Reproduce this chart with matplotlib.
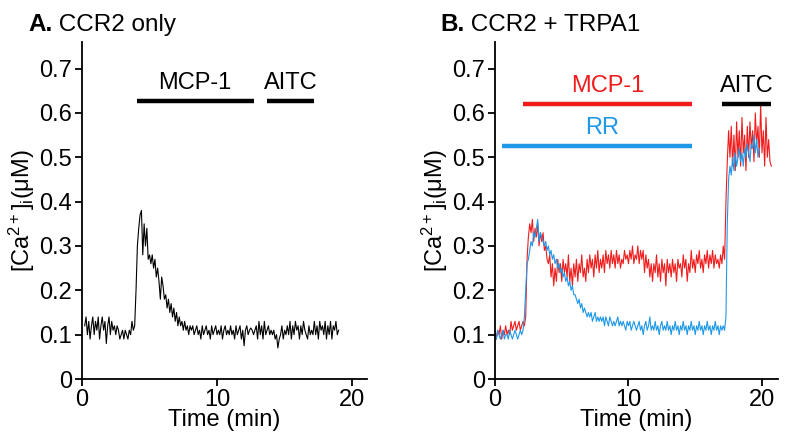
import numpy as np
import matplotlib
matplotlib.use("Agg")
import matplotlib.pyplot as plt

plt.rcParams['font.family'] = ['Liberation Sans', 'DejaVu Sans']
plt.rcParams['mathtext.fontset'] = 'custom'
plt.rcParams['mathtext.rm'] = 'Liberation Sans'
plt.rcParams['mathtext.it'] = 'Liberation Sans:italic'

RED = '#f01c1c'
BLUE = '#1f98e8'

# ---- panel A: CCR2 only, trace sampled every 0.1 min from 0.2 min ----
a_t0 = 0.2
a_ca = [
    0.12, 0.14, 0.10, 0.13, 0.09, 0.12, 0.14, 0.10, 0.13, 0.11,
    0.14, 0.09, 0.12, 0.14, 0.11, 0.13, 0.08, 0.12, 0.14, 0.10,
    0.13, 0.11, 0.12, 0.10, 0.12, 0.11, 0.09, 0.10, 0.11, 0.09,
    0.11, 0.10, 0.09, 0.11, 0.10, 0.13, 0.11, 0.12, 0.20, 0.30,
    0.34, 0.37, 0.38, 0.28, 0.35, 0.30, 0.34, 0.27, 0.28, 0.26,
    0.28, 0.25, 0.27, 0.23, 0.25, 0.22, 0.18, 0.23, 0.21, 0.18,
    0.19, 0.16, 0.18, 0.15, 0.17, 0.14, 0.16, 0.13, 0.15, 0.12,
    0.14, 0.12, 0.13, 0.11, 0.13, 0.11, 0.12, 0.10, 0.12, 0.11,
    0.12, 0.10, 0.11, 0.12, 0.10, 0.11, 0.09, 0.12, 0.10, 0.11,
    0.12, 0.10, 0.11, 0.09, 0.12, 0.10, 0.11, 0.12, 0.10, 0.11,
    0.10, 0.12, 0.09, 0.11, 0.12, 0.10, 0.11, 0.10, 0.12, 0.10,
    0.11, 0.09, 0.12, 0.10, 0.11, 0.12, 0.09, 0.11, 0.075, 0.11,
    0.12, 0.10, 0.11, 0.115, 0.11, 0.10, 0.11, 0.12, 0.09, 0.13,
    0.10, 0.12, 0.09, 0.13, 0.10, 0.11, 0.12, 0.10, 0.11, 0.10,
    0.11, 0.09, 0.10, 0.07, 0.09, 0.10, 0.12, 0.09, 0.11, 0.10,
    0.12, 0.10, 0.13, 0.09, 0.12, 0.10, 0.13, 0.11, 0.12, 0.09,
    0.12, 0.10, 0.13, 0.11, 0.10, 0.09, 0.12, 0.10, 0.11, 0.10,
    0.13, 0.10, 0.12, 0.09, 0.13, 0.11, 0.12, 0.10, 0.13, 0.09,
    0.12, 0.10, 0.13, 0.09, 0.12, 0.11, 0.13, 0.10, 0.11,
]

# ---- panel B: CCR2 + TRPA1, both traces sampled every 0.1 min from 0 ----
b_blue = [
    0.10, 0.09, 0.11, 0.10, 0.09, 0.10, 0.11, 0.09, 0.10, 0.10,
    0.09, 0.11, 0.10, 0.09, 0.10, 0.11, 0.10, 0.09, 0.10, 0.11,
    0.10, 0.11, 0.14, 0.20, 0.26, 0.27, 0.29, 0.31, 0.30, 0.33,
    0.32, 0.34, 0.36, 0.31, 0.33, 0.32, 0.31, 0.30, 0.31, 0.29,
    0.30, 0.28, 0.29, 0.27, 0.28, 0.26, 0.27, 0.25, 0.26, 0.24,
    0.25, 0.23, 0.24, 0.22, 0.23, 0.21, 0.22, 0.20, 0.21, 0.19,
    0.19, 0.18, 0.17, 0.18, 0.16, 0.17, 0.15, 0.16, 0.15, 0.14,
    0.15, 0.14, 0.15, 0.13, 0.14, 0.15, 0.13, 0.14, 0.13, 0.14,
    0.13, 0.14, 0.12, 0.14, 0.13, 0.12, 0.14, 0.13, 0.12, 0.13,
    0.12, 0.13, 0.14, 0.12, 0.13, 0.12, 0.13, 0.12, 0.11, 0.13,
    0.12, 0.13, 0.11, 0.12, 0.13, 0.12, 0.11, 0.12, 0.13, 0.11,
    0.12, 0.10, 0.12, 0.13, 0.11, 0.12, 0.14, 0.11, 0.12, 0.11,
    0.13, 0.11, 0.12, 0.10, 0.12, 0.13, 0.11, 0.12, 0.11, 0.13,
    0.11, 0.12, 0.10, 0.12, 0.11, 0.13, 0.11, 0.12, 0.10, 0.12,
    0.11, 0.13, 0.11, 0.12, 0.10, 0.12, 0.11, 0.13, 0.11, 0.12,
    0.10, 0.12, 0.11, 0.13, 0.11, 0.12, 0.10, 0.12, 0.11, 0.13,
    0.11, 0.12, 0.10, 0.12, 0.11, 0.13, 0.11, 0.12, 0.10, 0.12,
    0.11, 0.12, 0.11, 0.14, 0.35, 0.45, 0.48, 0.46, 0.50, 0.47,
    0.51, 0.48, 0.50, 0.52, 0.49, 0.51, 0.48, 0.52, 0.50, 0.53,
    0.51, 0.49, 0.53, 0.52, 0.55, 0.51, 0.54, 0.50, 0.52,
]
b_red = [
    0.11, 0.09, 0.11, 0.10, 0.12, 0.09, 0.11, 0.10, 0.12, 0.10,
    0.11, 0.10, 0.13, 0.11, 0.12, 0.13, 0.11, 0.12, 0.13, 0.11,
    0.12, 0.13, 0.12, 0.14, 0.27, 0.32, 0.35, 0.33, 0.36, 0.31,
    0.34, 0.32, 0.35, 0.30, 0.33, 0.31, 0.33, 0.29, 0.30, 0.27,
    0.26, 0.28, 0.23, 0.26, 0.21, 0.25, 0.22, 0.27, 0.24, 0.26,
    0.22, 0.27, 0.24, 0.26, 0.23, 0.28, 0.22, 0.25, 0.21, 0.26,
    0.23, 0.27, 0.22, 0.26, 0.24, 0.28, 0.23, 0.25, 0.22, 0.27,
    0.24, 0.28, 0.25, 0.27, 0.23, 0.28, 0.25, 0.29, 0.24, 0.27,
    0.25, 0.28, 0.24, 0.29, 0.26, 0.28, 0.25, 0.29, 0.26, 0.28,
    0.25, 0.29, 0.26, 0.28, 0.25, 0.27, 0.26, 0.29, 0.27, 0.28,
    0.26, 0.29, 0.27, 0.30, 0.26, 0.28, 0.27, 0.30, 0.26, 0.29,
    0.27, 0.29, 0.24, 0.28, 0.25, 0.27, 0.23, 0.26, 0.22, 0.26,
    0.24, 0.28, 0.23, 0.26, 0.22, 0.27, 0.24, 0.26, 0.21, 0.27,
    0.24, 0.26, 0.23, 0.27, 0.24, 0.26, 0.22, 0.27, 0.25, 0.26,
    0.23, 0.28, 0.25, 0.27, 0.22, 0.26, 0.24, 0.29, 0.25, 0.27,
    0.24, 0.28, 0.26, 0.29, 0.25, 0.27, 0.24, 0.28, 0.26, 0.29,
    0.25, 0.28, 0.26, 0.29, 0.25, 0.28, 0.26, 0.27, 0.25, 0.28,
    0.26, 0.30, 0.27, 0.40, 0.49, 0.56, 0.50, 0.57, 0.48, 0.55,
    0.47, 0.58, 0.50, 0.56, 0.48, 0.59, 0.51, 0.55, 0.47, 0.57,
    0.50, 0.58, 0.52, 0.56, 0.49, 0.60, 0.53, 0.57, 0.50, 0.62,
    0.51, 0.56, 0.48, 0.59, 0.50, 0.54, 0.49, 0.48,
]
dt = 0.1

# treatment bars: (label, start, end, y, colour)
a_bars = [("MCP-1", 4.05, 12.7, 0.628, 'black'), ("AITC", 13.7, 17.2, 0.628, 'black')]
b_bars = [("MCP-1", 2.1, 14.75, 0.62, RED), ("RR", 0.5, 14.75, 0.526, BLUE),
          ("AITC", 17.0, 20.7, 0.62, 'black')]

FS = 17

fig = plt.figure(figsize=(7.89, 4.43), dpi=100)
axA = fig.add_axes([82/789, 1-379/443, (367-82)/789, (379-42)/443])
axB = fig.add_axes([495/789, 1-379/443, (778-495)/789, (379-42)/443])

ta = a_t0 + dt*np.arange(len(a_ca))
axA.plot(ta, a_ca, color='black', lw=0.8)
tb = dt*np.arange(len(b_red))
tbb = dt*np.arange(len(b_blue))
axB.plot(tb, b_red, color=RED, lw=0.8)
axB.plot(tbb, b_blue, color=BLUE, lw=0.8)


def bars(ax, items):
    for lab, x0, x1, y, c in items:
        ax.plot([x0, x1], [y, y], color=c, lw=3.2, solid_capstyle='butt')
        ax.text((x0+x1)/2 if lab != "RR" else 8.0, y+0.015, lab, color=c,
                fontsize=FS, ha='center', va='bottom')


bars(axA, a_bars)
bars(axB, b_bars)

for ax, xmax in [(axA, 21.1), (axB, 21.2)]:
    ax.set_xlim(0, xmax)
    ax.set_ylim(0, 0.76)
    ax.set_xticks([0, 10, 20])
    ax.set_yticks([0, 0.1, 0.2, 0.3, 0.4, 0.5, 0.6, 0.7])
    ax.set_yticklabels(["0", "0.1", "0.2", "0.3", "0.4", "0.5", "0.6", "0.7"])
    ax.spines['top'].set_visible(False)
    ax.spines['right'].set_visible(False)
    ax.spines['left'].set_linewidth(1.3)
    ax.spines['bottom'].set_linewidth(1.3)
    ax.tick_params(direction='out', length=5, width=1.3, labelsize=FS, pad=2)
    ax.set_xlabel("Time (min)", fontsize=FS, labelpad=-1)
    ax.set_ylabel(r"[Ca$^{2+}$]$_{\mathrm{i}}$(μM)", fontsize=FS, labelpad=2)

for x, letter, rest in [(28, "A.", " CCR2 only"), (440, "B.", " CCR2 + TRPA1")]:
    t = fig.text(x/789, 1-31/443, letter, fontsize=17.5, fontweight='bold', va='baseline')
    axA.annotate(rest, xy=(1, 0), xycoords=t, fontsize=17.5, va='bottom')

fig.savefig("out.png", dpi=100)
